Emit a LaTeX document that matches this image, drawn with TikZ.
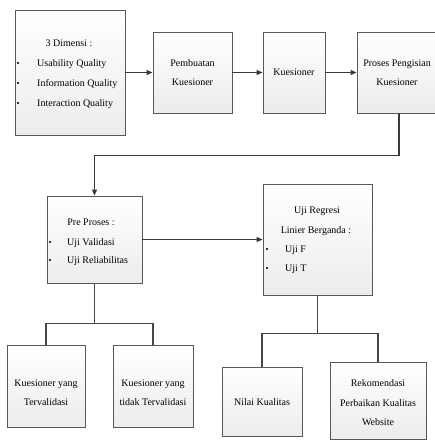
\documentclass[tikz,border=0pt]{standalone}
\usepackage{fontspec}
\setmainfont{Liberation Serif}
\usetikzlibrary{shadows,arrows.meta,calc}
\begin{document}
\begin{tikzpicture}[x=1pt,y=-1pt,
  box/.style={draw=gray!70!black, line width=0.9pt, top color=white, bottom color=gray!15,
    drop shadow={shadow xshift=1.4pt, shadow yshift=-1.4pt, opacity=0.45}, inner sep=0pt},
  txt/.style={font=\fontsize{10}{19.5}\selectfont, align=center, inner sep=0pt},
  ltxt/.style={font=\fontsize{10}{19.5}\selectfont, inner sep=0pt, anchor=base west},
  ctxt/.style={font=\fontsize{10}{19.5}\selectfont, inner sep=0pt, anchor=base},
  bul/.style={fill=black!80, minimum size=2.4pt, inner sep=0pt},
  arr/.style={draw=gray!45!black, line width=1.1pt, -{Triangle[length=6pt,width=5pt]}},
  tree/.style={draw=gray!55!black, line width=1.6pt}]
\useasboundingbox (0,0) rectangle (435,441);
\clip (0,0) rectangle (435,441);

% boxes
\node[box, minimum width=110pt, minimum height=125pt] (b1) at (70,72.5) {};
\node[box, minimum width=79pt, minimum height=81pt] (b2) at (192.5,72.5) {};
\node[box, minimum width=62pt, minimum height=81pt] (b3) at (294,72.5) {};
\node[box, minimum width=80pt, minimum height=81pt] (b4) at (397,72.5) {};
\node[box, minimum width=95pt, minimum height=87pt] (b5) at (94.5,239.5) {};
\node[box, minimum width=109pt, minimum height=111pt] (b6) at (317.5,239.5) {};
\node[box, minimum width=78pt, minimum height=82pt] (b7) at (46,386) {};
\node[box, minimum width=80pt, minimum height=82pt] (b8) at (153,386) {};
\node[box, minimum width=80pt, minimum height=69pt] (b9) at (262,401.5) {};
\node[box, minimum width=96pt, minimum height=77pt] (b10) at (378,400.5) {};

% box 1 text
\node[ctxt] (t1a) at (69,46.5) {3 Dimensi :};
\node[ltxt] (t1b) at (37,66.5) {Usability Quality};
\node[ltxt] (t1c) at (37,86.5) {Information Quality};
\node[ltxt] (t1d) at (37,106.5) {Interaction Quality};
\node[bul] (u1b) at (18,63) {};
\node[bul] (u1c) at (18,83) {};
\node[bul] (u1d) at (18,103) {};

\node[txt] (t2) at (b2) {Pembuatan\\Kuesioner};
\node[txt] (t3) at (b3) {Kuesioner};
\node[txt] (t4) at (b4) {Proses Pengisian\\Kuesioner};

% box 5 text
\node[ctxt] (t5a) at (91,225.5) {Pre Proses :};
\node[ltxt] (t5b) at (67,245.5) {Uji Validasi};
\node[ltxt] (t5c) at (67,263.5) {Uji Reliabilitas};
\node[bul] (u5b) at (50,242) {};
\node[bul] (u5c) at (50,260) {};

% box 6 text
\node[ctxt] (t6a) at (317,213.5) {Uji Regresi};
\node[ctxt] (t6b) at (316,233.5) {Linier Berganda :};
\node[ltxt] (t6c) at (285,252.5) {Uji F};
\node[ltxt] (t6d) at (285,271.5) {Uji T};
\node[bul] (u6c) at (267,249) {};
\node[bul] (u6d) at (267,268) {};

\node[txt] (t7) at (46,392.5) {Kuesioner yang\\Tervalidasi};
\node[txt] (t8) at (153,392.5) {Kuesioner yang\\tidak Tervalidasi};
\node[txt] (t9) at (262,402) {Nilai Kualitas};
\node[txt] (t10) at (378,403) {Rekomendasi\\Perbaikan Kualitas\\Website};

% connectors
\draw[arr] (b1.east) -- (b2.west);
\draw[arr] (b2.east) -- (b3.west);
\draw[arr] (b3.east) -- (b4.west);
\draw[arr] ([xshift=2pt]b4.south) -- ++(0,42) -| (b5.north);
\draw[arr] (b5.east) -- (b6.west);

\draw[tree] (b5.south) -- ++(0,40) -| (b7.north);
\draw[tree] (b5.south) -- ++(0,40) -| (b8.north);
\draw[tree] (b6.south) -- ++(0,38) -| (b9.north);
\draw[tree] (b6.south) -- ++(0,38) -| (b10.north);
\end{tikzpicture}
\end{document}
